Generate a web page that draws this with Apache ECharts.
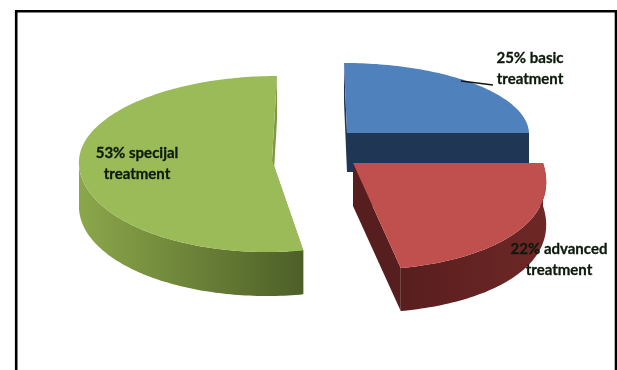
<!DOCTYPE html>
<html>
<head>
<meta charset="utf-8">
<style>html,body{margin:0;padding:0;background:#fff}#c{width:617px;height:370px}</style>
<script src="https://cdn.jsdelivr.net/npm/echarts@6/dist/echarts.min.js"></script>
</head>
<body>
<div id="c"></div>
<script>
// Treatment shares, in percent
const categories = ['basic', 'advanced', 'specijal'];
const shares = [25, 22, 53];

// Where each exploded wedge sits on the page and how the tilt foreshortens it
const wedgeCenters = [[347, 133], [353, 163], [272, 160]];
const wedgeRadii = [[182, 70, 70], [190, 107, 107], [193, 84, 92]]; // rx, back ry, front ry
const wedgeSkew = [-3, -7, 5];
const wedgeFlare = [0, 0.15, 0];
const wedgeDepth = [39, 43, 44];
const topColors = ['#4f81bd', '#c0504d', '#9bbb59'];
const faceColors = ['#1f3654', '#561e1e', '#7d9944'];
const wallStops = [['#1f3654', '#1f3654'], ['#581e1e', '#6e2826'], ['#8ba74a', '#4d5f27']];
const wallRange = [[347, 529], [400, 547], [79, 303]];
const labelSpots = [[530, 69], [559, 260], [137, 164]];
const drawOrder = [0, 2, 1];

const chart = echarts.init(document.getElementById('c'), null, { renderer: 'canvas' });

function startAngle(i) {
  return shares.slice(0, i).reduce((a, b) => a + b, 0) / 100 * 2 * Math.PI;
}

// Projects a rim point of wedge i, at clock angle t, onto the tilted plane
function rim(i, t, drop) {
  const [cx, cy] = wedgeCenters[i];
  const [rx, ryBack, ryFront] = wedgeRadii[i];
  const c = Math.cos(t), s = Math.sin(t);
  const ry = c > 0 ? ryBack : ryFront;
  return [
    cx + rx * s * (1 - wedgeFlare[i] * c) + wedgeSkew[i] * c,
    cy - ry * c + drop
  ];
}

function arcPoints(i, a, b, drop) {
  const pts = [];
  const n = Math.max(2, Math.ceil((b - a) / 0.02));
  for (let k = 0; k <= n; k++) pts.push(rim(i, a + (b - a) * k / n, drop));
  return pts;
}

function wedgeShapes(i) {
  const a = startAngle(i);
  const b = a + shares[i] / 100 * 2 * Math.PI;
  const [cx, cy] = wedgeCenters[i];
  const depth = wedgeDepth[i];
  const wall = {
    type: 'linear', x: wallRange[i][0], y: 0, x2: wallRange[i][1], y2: 0, global: true,
    colorStops: [{ offset: 0, color: wallStops[i][0] }, { offset: 1, color: wallStops[i][1] }]
  };
  const out = [];
  const poly = (points, fill) => out.push({ type: 'polygon', shape: { points }, style: { fill } });

  // Two cut faces, hanging below the radial edges
  [a, b].forEach(t => {
    const p = rim(i, t, 0), q = rim(i, t, depth);
    poly([[cx, cy], p, q, [cx, cy + depth]], faceColors[i]);
  });

  // Outer rim, only where it faces forward
  const from = Math.max(a, Math.PI / 2), to = Math.min(b, 3 * Math.PI / 2);
  if (to > from) {
    poly(arcPoints(i, from, to, 0).concat(arcPoints(i, from, to, depth).reverse()), wall);
  }

  // Top surface
  poly([[cx, cy]].concat(arcPoints(i, a, b, 0)), topColors[i]);
  return out;
}

function labelShape(i) {
  const [x, y] = labelSpots[i];
  return {
    type: 'text', z2: 10,
    style: {
      x, y, text: shares[i] + '% ' + categories[i] + '\ntreatment',
      fill: '#0d1a0c', font: 'bold 15px Lato', lineHeight: 21,
      stroke: '#0d1a0c', lineWidth: 0.3,
      align: 'center', verticalAlign: 'middle', textAlign: 'center', textVerticalAlign: 'middle'
    }
  };
}

chart.setOption({
  animation: false,
  backgroundColor: '#fff',
  graphic: [
    // Chart frame; its lower edge runs off the page
    { type: 'rect', shape: { x: 16.2, y: 11.3, width: 599.8, height: 380 }, style: { fill: 'none', stroke: '#000', lineWidth: 2.6 }, silent: true }
  ],
  series: [{
    type: 'custom',
    coordinateSystem: 'none',
    silent: true,
    data: categories.map((name, i) => ({ name, value: shares[i] })),
    renderItem(params) {
      const i = drawOrder[params.dataIndex];
      const children = wedgeShapes(i);
      if (i === 0) {
        // Leader from the rim of the first wedge to its label
        children.push({ type: 'line', shape: { x1: 461, y1: 81, x2: 493, y2: 85 }, style: { stroke: '#111', lineWidth: 1.5 } });
      }
      return { type: 'group', children };
    }
  }, {
    type: 'custom',
    coordinateSystem: 'none',
    silent: true,
    z: 5,
    data: categories.map((name, i) => ({ name, value: shares[i] })),
    renderItem(params) {
      return labelShape(params.dataIndex);
    }
  }]
});
</script>
</body>
</html>
